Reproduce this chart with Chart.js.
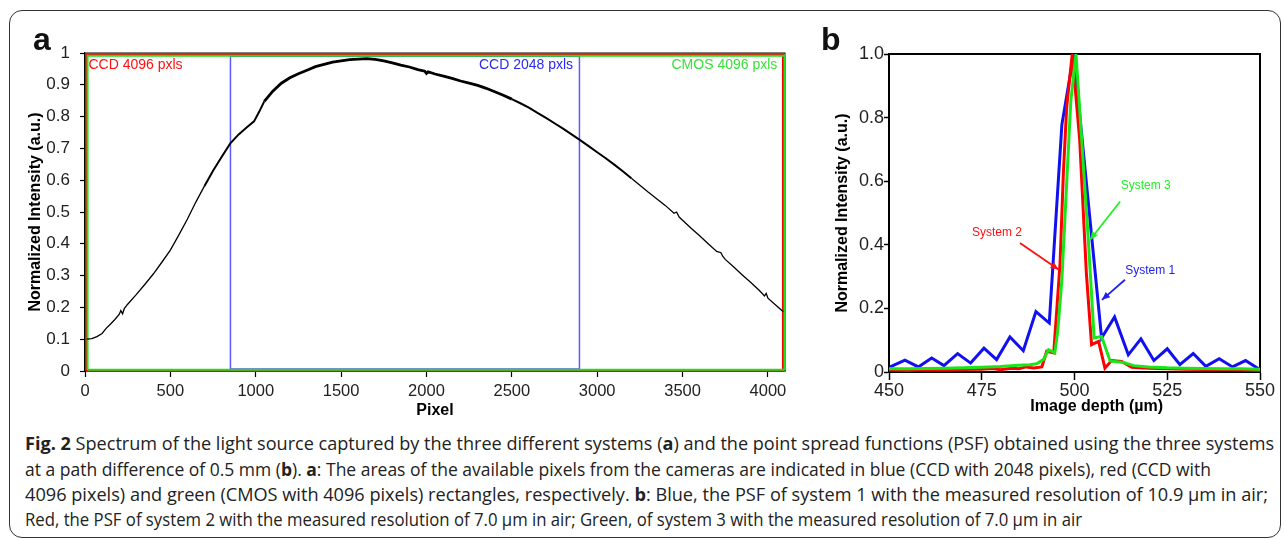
<!DOCTYPE html>
<html><head><meta charset="utf-8">
<script src="https://cdn.jsdelivr.net/npm/chart.js@4.4.1/dist/chart.umd.min.js"></script>
<style>
html,body{margin:0;padding:0;background:#fff;width:1285px;height:540px;overflow:hidden;position:relative;font-family:Arial,"Liberation Sans",sans-serif;}
#frame{position:absolute;left:9px;top:10px;width:1272px;height:528px;border:1.5px solid #333;border-radius:13px;box-sizing:border-box;}
canvas{position:absolute;top:0;}
#ca{left:0;}
#cb{left:820px;}
.plab{position:absolute;font:bold 32px Arial,"Liberation Sans",sans-serif;line-height:32px;color:#111;}
.cap{position:absolute;left:25px;white-space:nowrap;font-family:"Open Sans",sans-serif;font-size:18px;line-height:25px;color:#222;transform-origin:0 0;}
</style></head>
<body>
<div id="frame"></div>
<canvas id="ca" width="800" height="420"></canvas>
<canvas id="cb" width="465" height="420"></canvas>
<div class="plab" style="left:33px;top:23px;">a</div>
<div class="plab" style="left:821px;top:23px;">b</div>
<div class="cap" style="top:431px;"><b>Fig. 2</b> Spectrum of the light source captured by the three different systems (<b>a</b>) and the point spread functions (PSF) obtained using the three systems</div>
<div class="cap" style="top:457px;">at a path difference of 0.5 mm (<b>b</b>). <b>a</b>: The areas of the available pixels from the cameras are indicated in blue (CCD with 2048 pixels), red (CCD with</div>
<div class="cap" style="top:482px;">4096 pixels) and green (CMOS with 4096 pixels) rectangles, respectively. <b>b</b>: Blue, the PSF of system 1 with the measured resolution of 10.9 µm in air;</div>
<div class="cap" style="top:507px;">Red, the PSF of system 2 with the measured resolution of 7.0 µm in air; Green, of system 3 with the measured resolution of 7.0 µm in air</div>
<script>
// ---------- Panel a data ----------
const pixelTicks = [0,500,1000,1500,2000,2500,3000,3500,4000];
const intensityTicksA = [0,0.1,0.2,0.3,0.4,0.5,0.6,0.7,0.8,0.9,1];
const intensityLabelsA = ['0','0.1','0.2','0.3','0.4','0.5','0.6','0.7','0.8','0.9','1'];
const specX = [10,40,70,100,125,150,175,200,210,220,230,250,300,350,400,450,500,550,600,650,700,750,800,850,900,950,990,1020,1050,1100,1150,1200,1250,1300,1350,1400,1450,1500,1550,1600,1650,1700,1750,1800,1850,1900,1950,1990,2000,2010,2050,2100,2150,2200,2250,2300,2350,2400,2450,2500,2550,2600,2650,2700,2750,2800,2850,2900,2950,3000,3050,3100,3150,3200,3250,3300,3350,3400,3450,3465,3480,3500,3550,3600,3650,3700,3725,3735,3750,3800,3850,3900,3950,3980,3990,4000,4050,4090];
const specY = [0.100,0.102,0.108,0.118,0.135,0.148,0.162,0.178,0.190,0.180,0.196,0.210,0.240,0.272,0.305,0.342,0.380,0.428,0.478,0.532,0.582,0.630,0.673,0.715,0.744,0.767,0.785,0.815,0.848,0.880,0.905,0.922,0.935,0.946,0.957,0.964,0.971,0.975,0.979,0.981,0.982,0.980,0.975,0.969,0.962,0.956,0.948,0.943,0.936,0.941,0.934,0.927,0.920,0.912,0.905,0.898,0.889,0.878,0.867,0.855,0.842,0.828,0.812,0.796,0.779,0.762,0.744,0.726,0.707,0.688,0.669,0.649,0.628,0.606,0.584,0.562,0.541,0.520,0.496,0.500,0.484,0.474,0.449,0.425,0.400,0.376,0.372,0.361,0.351,0.327,0.302,0.278,0.253,0.236,0.244,0.229,0.205,0.186];
// pixel-area rectangles (data units: pixel, intensity)
const redRectX = [6,6,4088,4088,6];
const redRectY = [0,0.996,0.996,0,0];
const greenRectX = [15,15,4098,4098,15];
const greenRectY = [0.004,0.991,0.991,0.004,0.004];
const blueRectX = [852,852,2896,2896,852];
const blueRectY = [0.006,0.99,0.99,0.006,0.006];

// ---------- Panel b data ----------
const depthTicks = [450,475,500,525,550];
const intensityTicksB = [0,0.2,0.4,0.6,0.8,1.0];
const intensityLabelsB = ['0','0.2','0.4','0.6','0.8','1.0'];
const sys1X = [450.3,454.3,457.9,461.5,464.8,468.5,472.0,475.6,479.0,482.6,486.2,489.6,493.2,496.6,499.8,507.3,510.8,514.5,517.9,521.4,525.0,528.4,532.0,535.4,539.0,542.6,546.1,549.5,550];
const sys1Y = [0.016,0.037,0.016,0.044,0.020,0.058,0.028,0.075,0.039,0.110,0.067,0.190,0.154,0.778,1.0,0.107,0.173,0.054,0.104,0.036,0.073,0.023,0.058,0.018,0.042,0.016,0.036,0.011,0.010];
const sys2X = [450,455,460,465,470,475,478,480,483,485,487,489,491.2,492.5,494.4,496.1,497.0,497.9,499.4,501.4,503.2,504.6,506.5,508.2,510.0,512.7,515.4,520,525,530,535,540,545,550];
const sys2Y = [0.006,0.005,0.007,0.006,0.008,0.009,0.011,0.007,0.012,0.010,0.016,0.013,0.016,0.065,0.060,0.340,0.626,0.835,1.0,0.730,0.310,0.086,0.096,0.012,0.036,0.033,0.015,0.012,0.010,0.009,0.008,0.007,0.006,0.005];
const sys3X = [450,455,460,465,470,475,480,485,488,489.8,491.6,493.0,494.7,495.5,496.6,498.0,499.0,500.4,502.0,503.7,505.3,507.3,509.6,513.2,516,520,525,530,535,540,545,550];
const sys3Y = [0.010,0.010,0.011,0.012,0.013,0.015,0.017,0.021,0.023,0.026,0.039,0.070,0.060,0.130,0.290,0.620,0.850,1.0,0.720,0.420,0.107,0.112,0.035,0.030,0.020,0.016,0.013,0.012,0.011,0.010,0.010,0.009];

const pts = (xs, ys) => xs.map((v, i) => ({x: v, y: ys[i]}));

// ---------- plugins ----------
const framePlugin = {
  id: 'frame',
  beforeDatasetsDraw(chart, args, opts) {
    const {ctx, chartArea: {left, top, right, bottom}} = chart;
    ctx.save();
    ctx.strokeStyle = opts.color || '#000';
    ctx.lineWidth = opts.width || 1;
    ctx.strokeRect(left, top, right - left, bottom - top);
    ctx.restore();
  }
};
const notesPlugin = {
  id: 'notes',
  afterDatasetsDraw(chart, args, opts) {
    const {ctx} = chart;
    const xs = chart.scales.x, ys = chart.scales.y;
    (opts.items || []).forEach(n => {
      ctx.save();
      ctx.fillStyle = n.color; ctx.strokeStyle = n.color;
      ctx.font = n.font; ctx.textAlign = n.align; ctx.textBaseline = 'middle';
      ctx.fillText(n.text, xs.getPixelForValue(n.x), ys.getPixelForValue(n.y));
      if (n.arrow) {
        const x1 = xs.getPixelForValue(n.arrow[0]), y1 = ys.getPixelForValue(n.arrow[1]);
        const x2 = xs.getPixelForValue(n.arrow[2]), y2 = ys.getPixelForValue(n.arrow[3]);
        ctx.lineWidth = 1.8;
        ctx.beginPath(); ctx.moveTo(x1, y1); ctx.lineTo(x2, y2); ctx.stroke();
        const a = Math.atan2(y2 - y1, x2 - x1), L = 8, W = 3.5;
        ctx.beginPath();
        ctx.moveTo(x2, y2);
        ctx.lineTo(x2 - L*Math.cos(a) + W*Math.sin(a), y2 - L*Math.sin(a) - W*Math.cos(a));
        ctx.lineTo(x2 - L*Math.cos(a) - W*Math.sin(a), y2 - L*Math.sin(a) + W*Math.cos(a));
        ctx.closePath(); ctx.fill();
      }
      ctx.restore();
    });
  }
};

const fam = 'Arial, "Liberation Sans", sans-serif';
const titleFont = {family: fam, size: 16, weight: 'bold'};

// ---------- Chart a ----------
new Chart(document.getElementById('ca'), {
  type: 'line',
  data: {
    datasets: [
      {data: pts(specX, specY), borderColor: '#000', pointRadius: 0, tension: 0, order: 0,
       borderWidth: 1.3,
       segment: {borderWidth: c => { const m = (c.p0.parsed.y + c.p1.parsed.y) / 2; return m > 0.85 ? 2.8 : (m > 0.6 ? 2 : 1.3); }}},
      {data: pts(greenRectX, greenRectY), borderColor: '#1fe01f', borderWidth: 2, pointRadius: 0, tension: 0, order: 1, clip: false},
      {data: pts(redRectX, redRectY), borderColor: '#ff0000', borderWidth: 2, pointRadius: 0, tension: 0, order: 2, clip: false},
      {data: pts(blueRectX, blueRectY), borderColor: '#5a5aff', borderWidth: 1.5, pointRadius: 0, tension: 0, order: 3, clip: false}
    ]
  },
  plugins: [framePlugin, notesPlugin],
  options: {
    responsive: false, animation: false, maintainAspectRatio: false,
    layout: {padding: {top: 53, right: 15, left: 0, bottom: 0}},
    plugins: {
      legend: {display: false}, tooltip: {enabled: false},
      frame: {color: '#000', width: 1},
      notes: {items: [
        {text: 'CCD 4096 pxls', x: 20, y: 0.963, color: '#ff1010', align: 'left', font: '14px ' + fam},
        {text: 'CCD 2048 pxls', x: 2859, y: 0.963, color: '#2a2af0', align: 'right', font: '14px ' + fam},
        {text: 'CMOS 4096 pxls', x: 4055, y: 0.963, color: '#3ae03a', align: 'right', font: '14px ' + fam}
      ]}
    },
    scales: {
      x: {
        type: 'linear', min: 0, max: 4100,
        afterBuildTicks: s => { s.ticks = pixelTicks.map(v => ({value: v})); },
        afterFit: s => { s.height = 49; },
        grid: {drawOnChartArea: false, drawTicks: true, tickLength: 6, tickColor: '#000', tickWidth: 1.2},
        border: {display: true, color: '#000', width: 1.2},
        ticks: {font: {family: fam, size: 16.5}, color: '#222', padding: 5, maxRotation: 0, autoSkip: false, callback: (v, i) => String(pixelTicks[i])},
        title: {display: true, text: 'Pixel', font: titleFont, color: '#000', padding: {top: 0, bottom: 0}}
      },
      y: {
        type: 'linear', min: 0, max: 1,
        afterBuildTicks: s => { s.ticks = intensityTicksA.map(v => ({value: v})); },
        afterFit: s => { s.width = 85; },
        grid: {drawOnChartArea: false, drawTicks: true, tickLength: 5, tickColor: '#000', tickWidth: 1.2},
        border: {display: true, color: '#000', width: 1.2},
        ticks: {font: {family: fam, size: 17}, color: '#222', padding: 10, autoSkip: false, callback: (v, i) => intensityLabelsA[i]},
        title: {display: true, text: 'Normalized Intensity (a.u.)', font: titleFont, color: '#000', padding: {top: 26, bottom: 0}}
      }
    }
  }
});

// ---------- Chart b ----------
new Chart(document.getElementById('cb'), {
  type: 'line',
  data: {
    datasets: [
      {data: pts(sys3X, sys3Y), borderColor: '#19e619', borderWidth: 3, pointRadius: 0, tension: 0, order: 0},
      {data: pts(sys2X, sys2Y), borderColor: '#ff0000', borderWidth: 3, pointRadius: 0, tension: 0, order: 1},
      {data: pts(sys1X, sys1Y), borderColor: '#1010f0', borderWidth: 3, pointRadius: 0, tension: 0, order: 2}
    ]
  },
  plugins: [framePlugin, notesPlugin],
  options: {
    responsive: false, animation: false, maintainAspectRatio: false,
    layout: {padding: {top: 54, right: 25, left: 0, bottom: 0}},
    plugins: {
      legend: {display: false}, tooltip: {enabled: false},
      frame: {color: '#000', width: 2},
      notes: {items: [
        {text: 'System 3', x: 519.2, y: 0.585, color: '#22ee22', align: 'center', font: '12px ' + fam, arrow: [512.3, 0.536, 504.2, 0.416]},
        {text: 'System 2', x: 479.1, y: 0.437, color: '#ff1010', align: 'center', font: '12px ' + fam, arrow: [485.3, 0.406, 495.7, 0.322]},
        {text: 'System 1', x: 520.4, y: 0.319, color: '#2020f0', align: 'center', font: '12px ' + fam, arrow: [513.6, 0.29, 507.4, 0.227]}
      ]}
    },
    scales: {
      x: {
        type: 'linear', min: 450, max: 550,
        afterBuildTicks: s => { s.ticks = depthTicks.map(v => ({value: v})); },
        afterFit: s => { s.height = 48; },
        grid: {drawOnChartArea: false, drawTicks: true, tickLength: 8, tickColor: '#000', tickWidth: 1.5},
        border: {display: true, color: '#000', width: 2},
        ticks: {font: {family: fam, size: 18}, color: '#222', padding: 0, maxRotation: 0, autoSkip: false, callback: (v, i) => String(depthTicks[i])},
        title: {display: true, text: '\u00a0\u00a0\u00a0\u00a0\u00a0\u00a0\u00a0\u00a0\u00a0\u00a0Image depth (µm)', font: titleFont, color: '#000', padding: {top: 0, bottom: 4}}
      },
      y: {
        type: 'linear', min: 0, max: 1,
        afterBuildTicks: s => { s.ticks = intensityTicksB.map(v => ({value: v})); },
        afterFit: s => { s.width = 69; },
        grid: {drawOnChartArea: false, drawTicks: true, tickLength: 5, tickColor: '#000', tickWidth: 1.5},
        border: {display: true, color: '#000', width: 2},
        ticks: {font: {family: fam, size: 18}, color: '#222', padding: 0, autoSkip: false, callback: (v, i) => intensityLabelsB[i]},
        title: {display: true, text: 'Normalized Intensity (a.u.)', font: titleFont, color: '#000', padding: {top: 13, bottom: 0}}
      }
    }
  }
});

// ---------- caption fitting: each line to its measured width in the reference ----------
const captionWidths = [1249, 1186, 1243, 1057];
function fitCaption() {
  document.querySelectorAll('.cap').forEach((el, i) => {
    el.style.transform = 'none';
    const w = el.getBoundingClientRect().width;
    el.style.transform = 'scaleX(' + (captionWidths[i] / w) + ')';
  });
}
fitCaption();
if (document.fonts && document.fonts.ready) document.fonts.ready.then(fitCaption);
</script>
</body></html>
